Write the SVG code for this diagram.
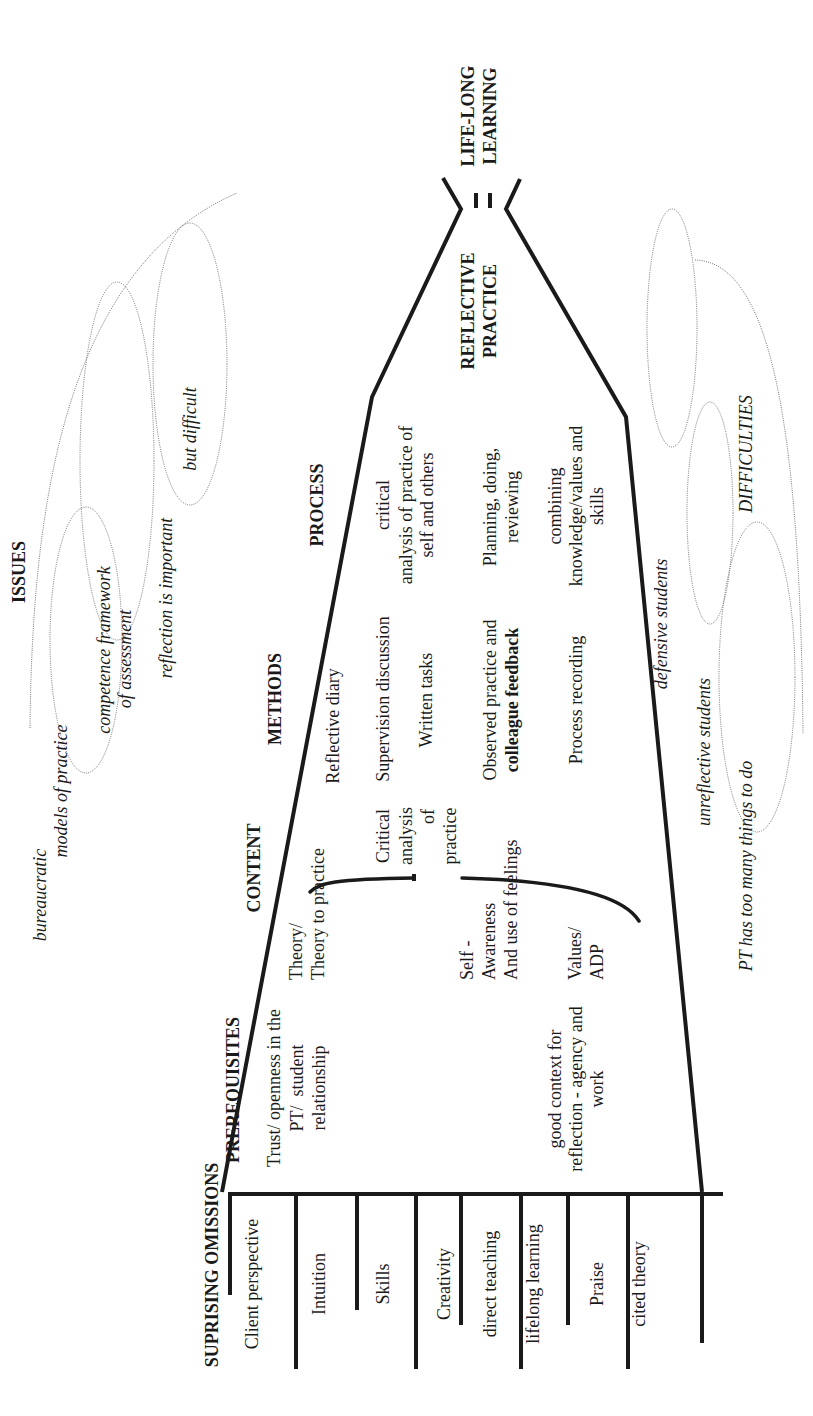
<svg xmlns="http://www.w3.org/2000/svg" width="813" height="1416" viewBox="0 0 813 1416">
<style>
text{font-family:"Liberation Serif","Times New Roman",serif;font-size:18px;fill:#1a1a1a}
.b{font-weight:bold}
.i{font-style:italic}
.m{text-anchor:middle}
.s{text-anchor:start}
.e{text-anchor:end}
.thick{fill:none;stroke:#1a1a1a;stroke-width:4}
.br{fill:none;stroke:#1a1a1a;stroke-width:3.5;stroke-linecap:round}
.dot{fill:none;stroke:#555;stroke-width:0.8;stroke-dasharray:1 1.2}
</style>
<rect width="813" height="1416" fill="#fff"/>

<g id="connectors">
  <polyline class="thick" points="443,178 461,209 372,397 222,1192"/>
  <polyline class="thick" points="520,179 506,209 626,417 702,1192"/>
  <line class="thick" x1="476" y1="193" x2="476" y2="208"/>
  <line class="thick" x1="490" y1="193" x2="490" y2="208"/>
  <line class="thick" x1="228" y1="1194" x2="723" y2="1194"/>
  <line class="thick" x1="230" y1="1192" x2="230" y2="1295"/>
  <line class="thick" x1="296" y1="1192" x2="296" y2="1369"/>
  <line class="thick" x1="357" y1="1192" x2="357" y2="1310"/>
  <line class="thick" x1="416" y1="1192" x2="416" y2="1369"/>
  <line class="thick" x1="461" y1="1192" x2="461" y2="1325"/>
  <line class="thick" x1="521" y1="1192" x2="521" y2="1369"/>
  <line class="thick" x1="568" y1="1192" x2="568" y2="1325"/>
  <line class="thick" x1="628" y1="1192" x2="628" y2="1369"/>
  <line class="thick" x1="702" y1="1192" x2="702" y2="1343"/>
  <path class="br" d="M310,892 C318,883 335,879 414,878"/>
  <line class="thick" x1="414" y1="874" x2="414" y2="881"/>
  <path class="br" d="M462,878 C540,880 620,890 639,921"/>
</g>

<g id="issues-shapes">
  <path class="dot" d="M30,728 C32,520 60,270 237,193"/>
  <ellipse class="dot" cx="86" cy="640" rx="36" ry="133"/>
  <ellipse class="dot" cx="117" cy="461" rx="37" ry="179"/>
  <ellipse class="dot" cx="190" cy="364" rx="37" ry="141"/>
</g>
<g id="difficulties-shapes">
  <ellipse class="dot" cx="672" cy="328" rx="25" ry="119"/>
  <path class="dot" d="M695,260 C765,262 800,400 803,733"/>
  <ellipse class="dot" cx="710" cy="513" rx="23" ry="111"/>
  <ellipse class="dot" cx="757" cy="677" rx="38" ry="155"/>
</g>

<g id="headings">
  <text class="b m" transform="translate(218,1265) rotate(-90)">SUPRISING OMISSIONS</text>
  <text class="b m" transform="translate(239,1090) rotate(-90)">PREREQUISITES</text>
  <text class="b m" transform="translate(260,868) rotate(-90)">CONTENT</text>
  <text class="b m" transform="translate(281,699) rotate(-90)">METHODS</text>
  <text class="b m" transform="translate(323,505) rotate(-90)">PROCESS</text>
  <text class="b m" transform="translate(25,572) rotate(-90)">ISSUES</text>
  <text class="b m" transform="translate(474,311) rotate(-90)"><tspan x="0" y="0">REFLECTIVE</tspan><tspan x="0" y="22">PRACTICE</tspan></text>
  <text class="b m" transform="translate(474,116) rotate(-90)"><tspan x="0" y="0">LIFE-LONG</tspan><tspan x="0" y="22">LEARNING</tspan></text>
</g>

<g id="issues">
  <text class="i m" transform="translate(46,895) rotate(-90)">bureaucratic</text>
  <text class="i m" transform="translate(67,791) rotate(-90)">models of practice</text>
  <text class="i m" transform="translate(110,650) rotate(-90)">competence framework</text>
  <text class="i m" transform="translate(131,659) rotate(-90)">of assessment</text>
  <text class="i m" transform="translate(172,598) rotate(-90)">reflection is important</text>
  <text class="i m" transform="translate(196,429) rotate(-90)">but difficult</text>
</g>

<g id="difficulties">
  <text class="i m" transform="translate(752,454) rotate(-90)">DIFFICULTIES</text>
  <text class="i m" transform="translate(667,624) rotate(-90)">defensive students</text>
  <text class="i m" transform="translate(710,752) rotate(-90)">unreflective students</text>
  <text class="i m" transform="translate(752,866) rotate(-90)">PT has too many things to do</text>
</g>

<g id="prerequisites">
  <text class="m" transform="translate(280,1088) rotate(-90)"><tspan x="0" y="0">Trust/ openness in the</tspan><tspan x="0" y="22.5">PT/&#160; student</tspan><tspan x="0" y="45">relationship</tspan></text>
  <text class="m" transform="translate(561,1089) rotate(-90)"><tspan x="0" y="0">good context for</tspan><tspan x="0" y="21">reflection - agency and</tspan><tspan x="0" y="42">work</tspan></text>
</g>

<g id="content">
  <text class="s" transform="translate(302,980) rotate(-90)"><tspan x="0" y="0">Theory/</tspan><tspan x="0" y="22">Theory to practice</tspan></text>
  <text class="m" transform="translate(389,836) rotate(-90)"><tspan x="0" y="0">Critical</tspan><tspan x="0" y="22.5">analysis</tspan></text>
  <text class="e" transform="translate(434,809) rotate(-90)">of</text>
  <text class="m" transform="translate(456,836) rotate(-90)">practice</text>
  <text class="s" transform="translate(473,980) rotate(-90)"><tspan x="0" y="0">Self -</tspan><tspan x="0" y="22">Awareness</tspan><tspan x="0" y="44">And use of feelings</tspan></text>
  <text class="s" transform="translate(581,980) rotate(-90)"><tspan x="0" y="0">Values/</tspan><tspan x="0" y="22">ADP</tspan></text>
</g>

<g id="methods">
  <text class="m" transform="translate(339,726) rotate(-90)">Reflective diary</text>
  <text class="m" transform="translate(389,699) rotate(-90)">Supervision discussion</text>
  <text class="m" transform="translate(432,700) rotate(-90)">Written tasks</text>
  <text class="m" transform="translate(496,700) rotate(-90)"><tspan x="0" y="0">Observed practice and</tspan><tspan x="0" y="22" font-weight="bold">colleague feedback</tspan></text>
  <text class="m" transform="translate(582,700) rotate(-90)">Process recording</text>
</g>

<g id="process">
  <text class="m" transform="translate(389,505) rotate(-90)"><tspan x="0" y="0">critical</tspan><tspan x="0" y="22.5">analysis of practice of</tspan><tspan x="0" y="44">self and others</tspan></text>
  <text class="m" transform="translate(496,507) rotate(-90)"><tspan x="0" y="0">Planning, doing,</tspan><tspan x="0" y="22">reviewing</tspan></text>
  <text class="m" transform="translate(561,506) rotate(-90)"><tspan x="0" y="0">combining</tspan><tspan x="0" y="21">knowledge/values and</tspan><tspan x="0" y="42">skills</tspan></text>
</g>

<g id="omissions">
  <text class="m" transform="translate(258,1284) rotate(-90)">Client perspective</text>
  <text class="m" transform="translate(325,1284) rotate(-90)">Intuition</text>
  <text class="m" transform="translate(389,1284) rotate(-90)">Skills</text>
  <text class="m" transform="translate(450,1284) rotate(-90)">Creativity</text>
  <text class="m" transform="translate(496,1284) rotate(-90)">direct teaching</text>
  <text class="m" transform="translate(539,1284) rotate(-90)">lifelong learning</text>
  <text class="m" transform="translate(603,1284) rotate(-90)">Praise</text>
  <text class="m" transform="translate(645,1284) rotate(-90)">cited theory</text>
</g>
</svg>
